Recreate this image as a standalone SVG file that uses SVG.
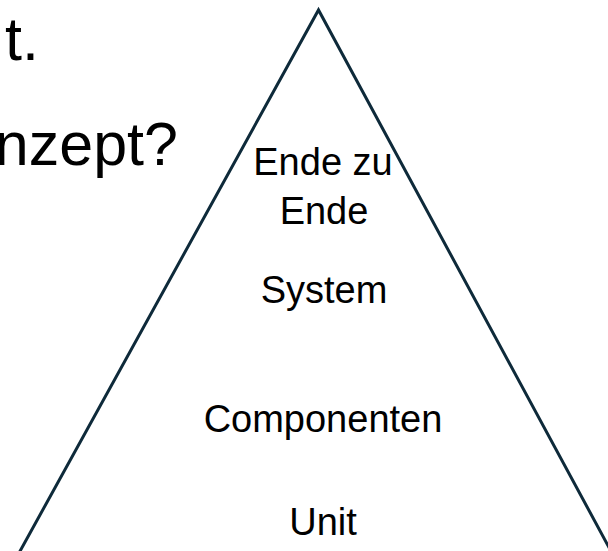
<svg xmlns="http://www.w3.org/2000/svg" width="608" height="551" viewBox="0 0 608 551">
  <style>
    .big { font-family: "Liberation Sans", Arial, sans-serif; font-size: 61px; fill: #000; }
    .lbl { font-family: "Liberation Sans", Arial, sans-serif; font-size: 38px; fill: #000; text-anchor: middle; }
    .tri { fill: none; stroke: #0e2a3a; stroke-width: 3; stroke-linejoin: miter; }
  </style>
  <rect width="608" height="551" fill="#fff"/>
  <!-- heading fragments at the left edge -->
  <g id="heading">
    <text class="big" x="39" y="60" text-anchor="end">t.</text>
    <text class="big" x="178" y="165" text-anchor="end">nzept?</text>
  </g>
  <!-- test pyramid outline -->
  <g id="pyramid">
    <polyline class="tri" points="19,553 318.5,10 612,553"/>
  </g>
  <!-- pyramid levels, top to bottom -->
  <g id="level-e2e">
    <text class="lbl" x="323" y="175">Ende zu</text>
    <text class="lbl" x="324" y="224">Ende</text>
  </g>
  <g id="level-system">
    <text class="lbl" x="324" y="303">System</text>
  </g>
  <g id="level-components">
    <text class="lbl" x="323" y="432">Componenten</text>
  </g>
  <g id="level-unit">
    <text class="lbl" x="323" y="535">Unit</text>
  </g>
</svg>
